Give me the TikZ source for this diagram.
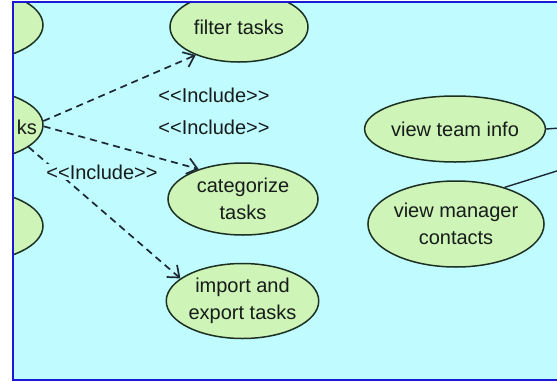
\documentclass[tikz,border=0pt]{standalone}
\usepackage{fontspec}
\setmainfont{Liberation Sans}
\usetikzlibrary{shapes.geometric,arrows.meta}
\definecolor{bgc}{RGB}{191,251,255}
\definecolor{ucfill}{RGB}{206,244,184}
\definecolor{edgec}{RGB}{28,48,34}
\definecolor{framec}{RGB}{25,25,215}
\definecolor{linec}{RGB}{30,40,50}
\definecolor{txt}{RGB}{22,28,25}
\begin{document}
\begin{tikzpicture}[x=1pt,y=-1pt,
  uc/.style={ellipse, draw=edgec, fill=ucfill, line width=1.5pt, inner sep=0pt,
    align=center, text=txt, font=\fontsize{20}{27}\selectfont},
  lbl/.style={text=txt, inner sep=1pt, font=\fontsize{20}{27}\selectfont},
  inclbl/.style={lbl, fill=bgc},
  inc/.style={draw=linec, line width=1.7pt, dash pattern=on 7pt off 5pt,
    -{Straight Barb[length=10pt,width=16pt]}},
  assoc/.style={draw=linec, line width=1.4pt}]
\useasboundingbox (0,0) rectangle (557,381);
\fill[white] (0,0) rectangle (557,381);
\fill[bgc] (13,2) rectangle (560,380);
\begin{scope}
\clip (13,2) rectangle (557,380);
\node[uc, minimum width=150pt, minimum height=72pt] (tl) at (-32,25) {};
\node[uc, minimum width=150pt, minimum height=72pt] (ks) at (-32,125) {};
\node[uc, minimum width=150pt, minimum height=72pt] (bl) at (-32,226) {};
\node[lbl, anchor=east, inner sep=0pt] (kstext) at (37,127) {ks};
\node[uc, minimum width=138pt, minimum height=70pt] (filter) at (239,27) {filter tasks};
\node[uc, minimum width=150pt, minimum height=72pt] (cat) at (243,199) {categorize\\tasks};
\node[uc, minimum width=150pt, minimum height=75pt] (imp) at (242.5,301) {import and\\export tasks};
\node[uc, minimum width=152pt, minimum height=66pt] (vti) at (455,129) {view team info};
\node[uc, minimum width=162pt, minimum height=86pt] (mgr) at (456,224) {view manager\\contacts};
\coordinate (r1) at (560,128);
\coordinate (r2) at (560,170);
\draw[inc] (ks.3) -- (filter.213);
\draw[inc] (ks.-1) -- (cat.146);
\draw[inc] (ks.-20) -- (imp.160);
\draw[assoc] (vti.east) -- (r1);
\draw[assoc] (mgr.37) -- (r2);
\node[inclbl] (inc1) at (214,95) {<{}<Include>{}>};
\node[inclbl] (inc2) at (214,127) {<{}<Include>{}>};
\node[inclbl] (inc3) at (102,172) {<{}<Include>{}>};
\end{scope}
\draw[framec, line width=2.5pt] (560,2) -- (13,2) -- (13,380) -- (560,380);
\end{tikzpicture}
\end{document}
